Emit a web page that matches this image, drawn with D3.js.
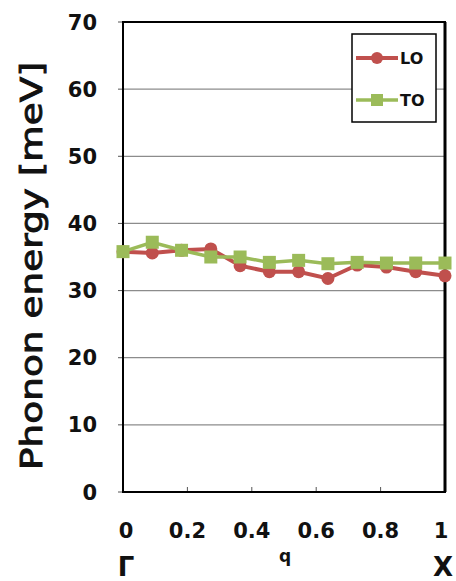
<!DOCTYPE html>
<html>
<head>
<meta charset="utf-8">
<script src="https://cdn.jsdelivr.net/npm/d3@7"></script>
<style>
  body { margin: 0; background: #fff; }
  text { font-family: "DejaVu Sans", Verdana, sans-serif; font-weight: bold; }
</style>
</head>
<body>
<svg id="chart" width="456" height="581"></svg>
<script>
// q points along Gamma -> X (12 points)
const qValues = [0, 1/11, 2/11, 3/11, 4/11, 5/11, 6/11, 7/11, 8/11, 9/11, 10/11, 1];
const loValues = [35.8, 35.6, 36.0, 36.2, 33.7, 32.8, 32.8, 31.8, 33.8, 33.5, 32.8, 32.2];
const toValues = [35.8, 37.2, 36.0, 35.0, 35.0, 34.2, 34.5, 34.0, 34.2, 34.1, 34.1, 34.1];
const yTicks = [0, 10, 20, 30, 40, 50, 60, 70];
const xTicks = [0, 0.2, 0.4, 0.6, 0.8, 1];

const svg = d3.select("#chart");
const plotLeft = 123, plotRight = 445, plotTop = 22, plotBottom = 492;

const x = d3.scaleLinear().domain([0, 1]).range([plotLeft, plotRight]);
const y = d3.scaleLinear().domain([0, 70]).range([plotBottom, plotTop]);

// gridlines
svg.append("g")
    .selectAll("line")
    .data(yTicks.filter(d => d > 0 && d < 70))
    .join("line")
    .attr("x1", plotLeft)
    .attr("x2", plotRight)
    .attr("y1", d => y(d))
    .attr("y2", d => y(d))
    .style("stroke", "#8c8c8c")
    .style("stroke-width", 1.2);

// small ticks outside left
svg.append("g")
    .selectAll("line")
    .data(yTicks)
    .join("line")
    .attr("x1", plotLeft - 5)
    .attr("x2", plotLeft)
    .attr("y1", d => y(d))
    .attr("y2", d => y(d))
    .style("stroke", "#555")
    .style("stroke-width", 1);

// small ticks at bottom
svg.append("g")
    .selectAll("line")
    .data(xTicks)
    .join("line")
    .attr("x1", d => x(d))
    .attr("x2", d => x(d))
    .attr("y1", plotBottom)
    .attr("y2", plotBottom - 5)
    .style("stroke", "#555")
    .style("stroke-width", 1);

// frame
svg.append("rect")
    .attr("x", plotLeft)
    .attr("y", plotTop)
    .attr("width", plotRight - plotLeft)
    .attr("height", plotBottom - plotTop)
    .style("fill", "none")
    .style("stroke", "black")
    .style("stroke-width", 2);
svg.append("line")
    .attr("x1", plotRight).attr("x2", plotRight)
    .attr("y1", plotTop).attr("y2", plotBottom)
    .style("stroke", "black")
    .style("stroke-width", 3);

// y tick labels
svg.append("g")
    .selectAll("text")
    .data(yTicks)
    .join("text")
    .attr("x", 97)
    .attr("y", d => y(d))
    .attr("dy", "0.36em")
    .attr("text-anchor", "end")
    .style("font-size", "21px")
    .style("fill", "#111")
    .text(d => d);

// x tick labels
svg.append("g")
    .selectAll("text")
    .data(xTicks)
    .join("text")
    .attr("x", d => d === 1 ? x(d) - 4 : (d === 0 ? x(d) + 3 : x(d)))
    .attr("y", 530)
    .attr("dy", "0.36em")
    .attr("text-anchor", "middle")
    .style("font-size", "21px")
    .style("fill", "#111")
    .text(d => d);

// Gamma, q, X
svg.append("text").attr("x", 126).attr("y", 576).attr("text-anchor", "middle")
    .style("font-size", "26px").style("fill", "#111").text("Γ");
svg.append("text").attr("x", 285).attr("y", 562).attr("text-anchor", "middle")
    .style("font-size", "17px").style("fill", "#111").text("q");
svg.append("text").attr("x", 443).attr("y", 576).attr("text-anchor", "middle")
    .style("font-size", "26px").style("fill", "#111").text("X");

// y axis label
svg.append("text")
    .attr("transform", "translate(42,266) rotate(-90)")
    .attr("text-anchor", "middle")
    .attr("textLength", 408)
    .attr("lengthAdjust", "spacingAndGlyphs")
    .style("font-size", "30px")
    .style("font-weight", "normal")
    .style("fill", "#111")
    .style("stroke", "#111")
    .style("stroke-width", 0.9)
    .text("Phonon energy [meV]");

const red = "#c0504d", green = "#9bbb59";
const line = d3.line().x(d => x(d[0])).y(d => y(d[1]));

// LO series
const loData = qValues.map((q, i) => [q, loValues[i]]);
svg.append("path")
    .datum(loData)
    .attr("d", line)
    .style("fill", "none")
    .style("stroke", red)
    .style("stroke-width", 4);
svg.append("g")
    .selectAll("circle")
    .data(loData)
    .join("circle")
    .attr("cx", d => x(d[0]))
    .attr("cy", d => y(d[1]))
    .attr("r", 6.5)
    .style("fill", red);

// TO series
const toData = qValues.map((q, i) => [q, toValues[i]]);
svg.append("path")
    .datum(toData)
    .attr("d", line)
    .style("fill", "none")
    .style("stroke", green)
    .style("stroke-width", 3.5);
svg.append("g")
    .selectAll("rect")
    .data(toData)
    .join("rect")
    .attr("x", d => x(d[0]) - 6.5)
    .attr("y", d => y(d[1]) - 6.5)
    .attr("width", 13)
    .attr("height", 13)
    .style("fill", green);

// legend
const legend = svg.append("g");
legend.append("rect")
    .attr("x", 352).attr("y", 34)
    .attr("width", 84).attr("height", 88)
    .style("fill", "white")
    .style("stroke", "black")
    .style("stroke-width", 1.5);
legend.append("line").attr("x1", 356).attr("x2", 398).attr("y1", 58).attr("y2", 58)
    .style("stroke", red).style("stroke-width", 4);
legend.append("circle").attr("cx", 377).attr("cy", 58).attr("r", 6).style("fill", red);
legend.append("text").attr("x", 400).attr("y", 58).attr("dy", "0.36em")
    .style("font-size", "16px").style("fill", "#111").text("LO");
legend.append("line").attr("x1", 356).attr("x2", 398).attr("y1", 100).attr("y2", 100)
    .style("stroke", green).style("stroke-width", 3.5);
legend.append("rect").attr("x", 371).attr("y", 94).attr("width", 12).attr("height", 12).style("fill", green);
legend.append("text").attr("x", 400).attr("y", 100).attr("dy", "0.36em")
    .style("font-size", "16px").style("fill", "#111").text("TO");
</script>
</body>
</html>
